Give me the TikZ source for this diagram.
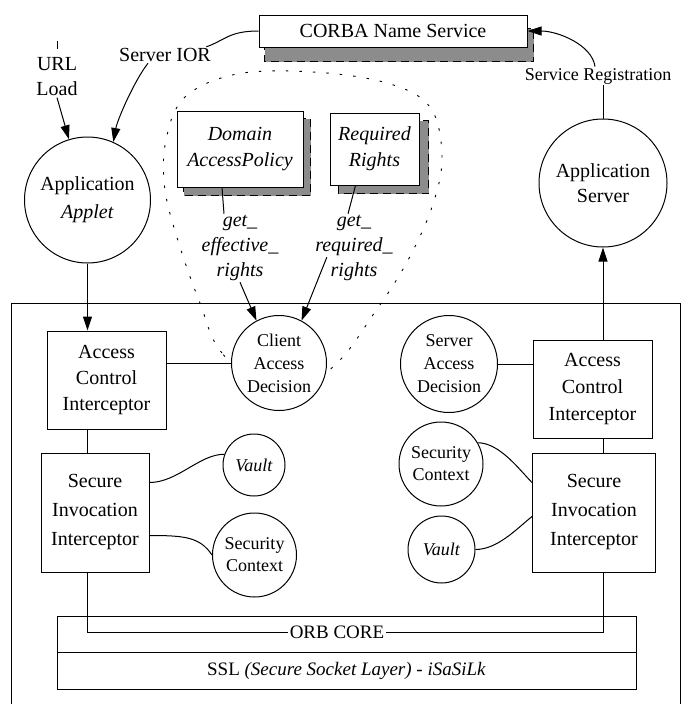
\documentclass[tikz,border=0pt]{standalone}
\usepackage{fontspec}
\setmainfont{Liberation Serif}
\usetikzlibrary{arrows.meta,backgrounds}

\begin{document}
\begin{tikzpicture}[x=1pt,y=-1pt,line width=1pt,>={Triangle[length=14pt,width=9pt]},
  box/.style={draw,fill=white,align=center,inner sep=0pt,font=\fontsize{20}{26}\selectfont},
  ball/.style={circle,draw,fill=white,align=center,inner sep=0pt,font=\fontsize{18}{23}\selectfont},
  lbl/.style={align=center,inner sep=1pt,font=\fontsize{20}{25}\selectfont},
  shade/.style={fill=black!45,draw=black,dash pattern=on 8pt off 5pt},
  balloon/.style={dash pattern=on 2.5pt off 11pt,line width=0.9pt}]
\useasboundingbox (0,0) rectangle (689,704);

% dotted policy area
\draw[balloon] plot[smooth cycle,tension=0.6] coordinates {(279,400) (222,353) (200,303) (180,247) (165,190)
  (166,140) (185,97) (237,74) (313,72) (387,83) (430,107) (442,157) (432,207) (407,262) (375,312) (335,365)};

% ORB frame
\draw (11,704) |- (680,303) -- (680,704);

\node[box,minimum width=268pt,minimum height=32pt] (corba) at (393,31) {CORBA Name Service};
\node[box,minimum width=126pt,minimum height=76pt,font=\itshape\fontsize{20}{26}\selectfont] (domain) at (240,149) {Domain\\AccessPolicy};
\node[box,minimum width=89pt,minimum height=72pt,font=\itshape\fontsize{20}{26}\selectfont] (required) at (374.5,149) {Required\\Rights};

\node[ball,minimum size=126pt,font=\fontsize{20}{28}\selectfont] (applet) at (87.5,200) {Application\\\textit{Applet}};
\node[ball,minimum size=128pt,font=\fontsize{20}{25}\selectfont] (server) at (603,183) {Application\\Server};

\node[box,minimum width=119pt,minimum height=98pt] (acil) at (106.5,380) {Access\\Control\\Interceptor};
\node[box,minimum width=108pt,minimum height=119pt,font=\fontsize{20}{29}\selectfont] (siil) at (95,512.5) {Secure\\Invocation\\Interceptor};
\node[box,minimum width=119pt,minimum height=98pt,font=\fontsize{20}{27}\selectfont] (acir) at (592.5,389) {Access\\Control\\Interceptor};
\node[box,minimum width=123pt,minimum height=119pt,font=\fontsize{20}{29}\selectfont] (siir) at (594,512.5) {Secure\\Invocation\\Interceptor};

\node[ball,minimum size=95pt] (cad) at (279,363) {Client\\Access\\Decision};
\node[ball,minimum size=97pt] (sad) at (449,364) {Server\\Access\\Decision};
\node[ball,minimum size=62pt] (vaultl) at (254,465) {\textit{Vault}};
\node[ball,minimum size=84pt,font=\fontsize{18}{22}\selectfont] (secl) at (254.5,555) {Security\\Context};
\node[ball,minimum size=84pt,font=\fontsize{18}{22}\selectfont] (secr) at (441,464) {Security\\Context};
\node[ball,minimum size=67pt] (vaultr) at (441.5,549.5) {\textit{Vault}};

\node[draw,minimum width=579pt,minimum height=36pt] (orbbox) at (346.5,634) {};
\node[draw,minimum width=579pt,minimum height=37pt,font=\fontsize{19}{23}\selectfont] (sslbox) at (346.5,670.5) {SSL \textit{(Secure Socket Layer) - iSaSiLk}};
\node[lbl,font=\fontsize{19}{23}\selectfont] (orbcore) at (337,632) {ORB CORE};

\node[lbl] (url) at (57,77) {URL\\Load};
\node[lbl] (sior) at (165,55) {Server IOR};
\node[lbl,font=\fontsize{18}{22}\selectfont] (sreg) at (598,76) {Service Registration};
\node[lbl,font=\itshape\fontsize{20}{25}\selectfont] (gereff) at (240,248) {get\_\\effective\_\\rights};
\node[lbl,font=\itshape\fontsize{20}{25}\selectfont] (getreq) at (354,248) {get\_\\required\_\\rights};
\coordinate (urltick) at (57,41);

% shadows
\begin{scope}[on background layer]
\foreach \b/\dx/\dy in {corba/6/14,domain/7/8,required/9/8}
  \draw[shade] ([shift={(\dx,\dy)}]\b.north west) rectangle ([shift={(\dx,\dy)}]\b.south east);
\end{scope}

% top links
\draw (urltick) -- ++(0,8);
\path (url.south) edge[->] (applet.107);
\draw (corba.west) .. controls +(-30,0) and +(18,-6) .. ([xshift=-6pt]sior.north east);
\draw[->] ([xshift=-17pt]sior.south) .. controls +(-14,18) and +(4,-22) .. (applet.66);
\draw[->] ([xshift=-3pt]sreg.north) .. controls +(-3,-22) and +(30,0) .. (corba.east);
\path (server.north |- sreg.south) edge (server.north);

% policy queries
\path ([xshift=-18pt]domain.south) edge ([xshift=-16pt]gereff.north);
\path ([xshift=-19pt]required.south) edge ([xshift=-6pt]getreq.north);
\path (gereff.south) edge[->] (cad.118);
\path ([xshift=13pt,yshift=25pt]getreq.south west) edge[->] (cad.62);

% client side
\path (applet.south) edge[->] (applet.south |- acil.north);
\path (acil.east |- cad.west) edge (cad.west);
\path (acil.south -| applet.south) edge (siil.north -| applet.south);
\draw ([yshift=-30pt]siil.north east) .. controls +(28,0) and +(-25,0) .. (vaultl.160);
\draw ([yshift=37pt]siil.south east) .. controls +(35,0) and +(-12,-18) .. (secl.west);
\draw (siil.south -| applet.south) |- (orbcore.west);

% server side
\path (acir.north -| server.south) edge[->] (server.south);
\path (sad.east) edge (sad.east -| acir.west);
\path (acir.south -| server.south) edge (siir.north -| server.south);
\draw (secr.30) .. controls +(22,0) and +(-12,-12) .. ([yshift=-30pt]siir.north west);
\draw (vaultr.east) .. controls +(22,0) and +(-15,12) .. ([yshift=-64pt]siir.north west);
\draw (siir.south -| server.south) |- (orbcore.east);
\end{tikzpicture}
\end{document}
